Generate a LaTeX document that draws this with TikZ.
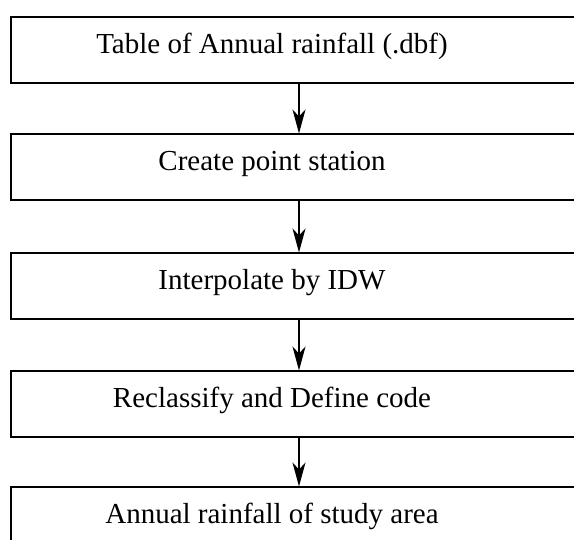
\documentclass[tikz,border=0pt]{standalone}
\usepackage{fontspec}
\setmainfont{Liberation Serif}
\usetikzlibrary{arrows.meta,positioning}

\tikzset{
	stagebox/.style={draw, line width=2pt, minimum width=576pt, minimum height=66pt, inner sep=0pt},
	stagetext/.style={font=\fontsize{29pt}{32pt}\selectfont, xshift=-27pt, yshift=4pt},
	flow/.style={line width=1.6pt, -{Stealth[length=24pt,width=13pt,inset=7pt]}}
}

\begin{document}
\begin{tikzpicture}
			\useasboundingbox (0,0) rectangle (574pt,-540pt);
			\clip (0,0) rectangle (574pt,-540pt);
			% stages
			\node[stagebox] (b1) at (299pt,-50.5pt) {};
			\node[stagebox, below=49pt of b1] (b2) {};
			\node[stagebox, below=51pt of b2] (b3) {};
			\node[stagebox, below=50pt of b3] (b4) {};
			\node[stagebox, below=48pt of b4] (b5) {};
			\node[stagetext] (t1) at (b1.center) {Table of Annual rainfall (.dbf)};
			\node[stagetext] (t2) at (b2.center) {Create point station};
			\node[stagetext] (t3) at (b3.center) {Interpolate by IDW};
			\node[stagetext] (t4) at (b4.center) {Reclassify and Define code};
			\node[stagetext] (t5) at (b5.center) {Annual rainfall of study area};
			% arrows
			\foreach \i/\j in {b1/b2, b2/b3, b3/b4, b4/b5}
				\draw[flow] (\i.south) -- (\j.north);
		\end{tikzpicture}
\end{document}
